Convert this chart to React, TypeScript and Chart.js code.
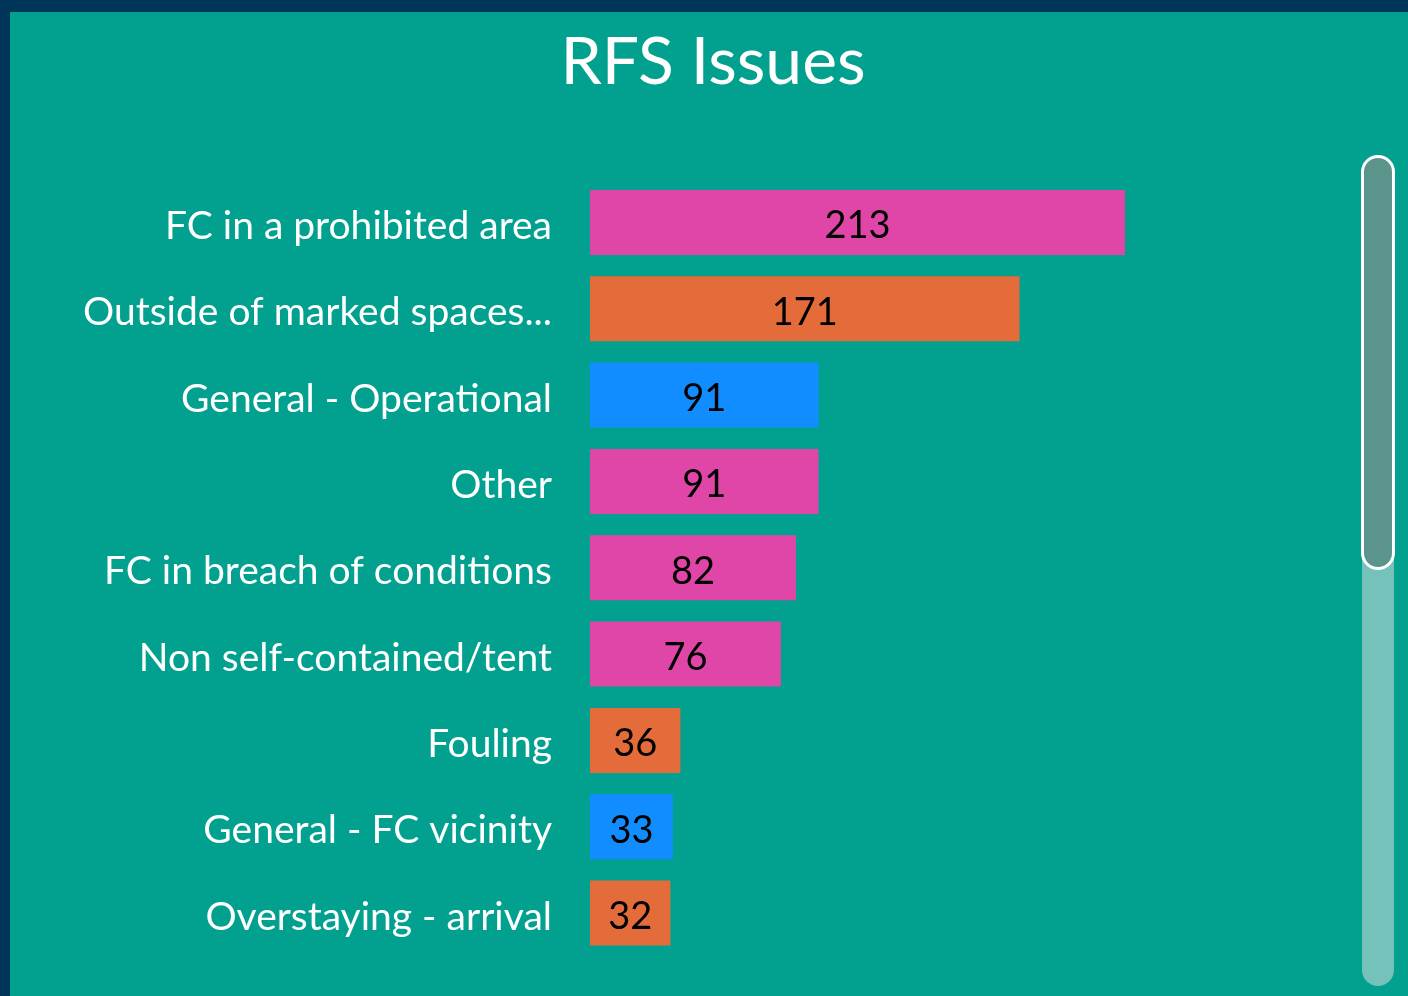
import React, { useEffect, useRef } from "react";
import { Chart, registerables } from "chart.js";

Chart.register(...registerables);

const categories = [
  "FC in a prohibited area",
  "Outside of marked spaces...",
  "General - Operational",
  "Other",
  "FC in breach of conditions",
  "Non self-contained/tent",
  "Fouling",
  "General - FC vicinity",
  "Overstaying - arrival",
];
const values = [213, 171, 91, 91, 82, 76, 36, 33, 32];
const PINK = "#E046A8";
const ORANGE = "#E46C3A";
const BLUE = "#118DFF";
const barColors = [PINK, ORANGE, BLUE, PINK, PINK, PINK, ORANGE, BLUE, ORANGE];
const titleText = "RFS Issues";

const NAVY = "#00355A";
const TEAL = "#02A08F";
const FONT = "Lato";

const W = 1408;
const H = 996;

export default function App() {
  const ref = useRef<HTMLCanvasElement | null>(null);

  useEffect(() => {
    document.body.style.margin = "0";
    const canvas = ref.current;
    if (!canvas) return;

    const decor = {
      id: "decor",
      beforeDraw(chart: any) {
        const ctx = chart.ctx;
        ctx.save();
        ctx.fillStyle = NAVY;
        ctx.fillRect(0, 0, W, H);
        ctx.fillStyle = TEAL;
        ctx.fillRect(10, 12, W - 10, H - 12);
        ctx.restore();
      },
      afterDraw(chart: any) {
        const ctx = chart.ctx;
        ctx.save();
        // title
        ctx.fillStyle = "#FFFFFF";
        ctx.font = `66px ${FONT}`;
        ctx.textAlign = "center";
        ctx.textBaseline = "alphabetic";
        ctx.fillText(titleText, 713, 84);

        // value labels
        const meta = chart.getDatasetMeta(0);
        ctx.fillStyle = "#000000";
        ctx.font = `38px ${FONT}`;
        meta.data.forEach((bar: any, i: number) => {
          const cx = (bar.base + bar.x) / 2;
          ctx.fillText(String(values[i]), cx, bar.y + 16);
        });

        // scrollbar
        const rr = (x: number, y: number, w: number, h: number, r: number) => {
          ctx.beginPath();
          ctx.moveTo(x + r, y);
          ctx.lineTo(x + w - r, y);
          ctx.arc(x + w - r, y + r, r, -Math.PI / 2, 0);
          ctx.lineTo(x + w, y + h - r);
          ctx.arc(x + w - r, y + h - r, r, 0, Math.PI / 2);
          ctx.lineTo(x + r, y + h);
          ctx.arc(x + r, y + h - r, r, Math.PI / 2, Math.PI);
          ctx.lineTo(x, y + r);
          ctx.arc(x + r, y + r, r, Math.PI, Math.PI * 1.5);
          ctx.closePath();
        };
        ctx.fillStyle = "#74C2BA";
        rr(1362, 160, 32, 826, 16);
        ctx.fill();
        ctx.fillStyle = "#5A948A";
        rr(1362.5, 156.5, 31, 412, 15.5);
        ctx.fill();
        ctx.strokeStyle = "#FFFFFF";
        ctx.lineWidth = 3;
        ctx.stroke();
        ctx.restore();
      },
    };

    const chart = new Chart(canvas, {
      type: "bar",
      data: {
        labels: categories,
        datasets: [
          {
            data: values,
            backgroundColor: barColors,
            borderWidth: 0,
            categoryPercentage: 1,
            barPercentage: 0.753,
          },
        ],
      },
      options: {
        indexAxis: "y",
        animation: false,
        responsive: false,
        devicePixelRatio: 1,
        layout: { padding: { top: 179.3, bottom: 39.8, left: 0, right: 114.7 } },
        plugins: {
          legend: { display: false },
          title: { display: false },
          tooltip: { enabled: false },
        },
        scales: {
          x: {
            display: false,
            min: 0,
            max: 280,
          },
          y: {
            afterFit(scale: any) {
              scale.width = 590;
            },
            grid: { display: false, drawTicks: true, tickLength: 38 },
            border: { display: false },
            ticks: {
              color: "#FFFFFF",
              padding: 0,
              labelOffset: 4,
              font: { family: FONT, size: 39 },
            },
          },
        },
      },
      plugins: [decor],
    });

    return () => chart.destroy();
  }, []);

  return <canvas ref={ref} width={W} height={H} style={{ display: "block", width: W, height: H }} />;
}
